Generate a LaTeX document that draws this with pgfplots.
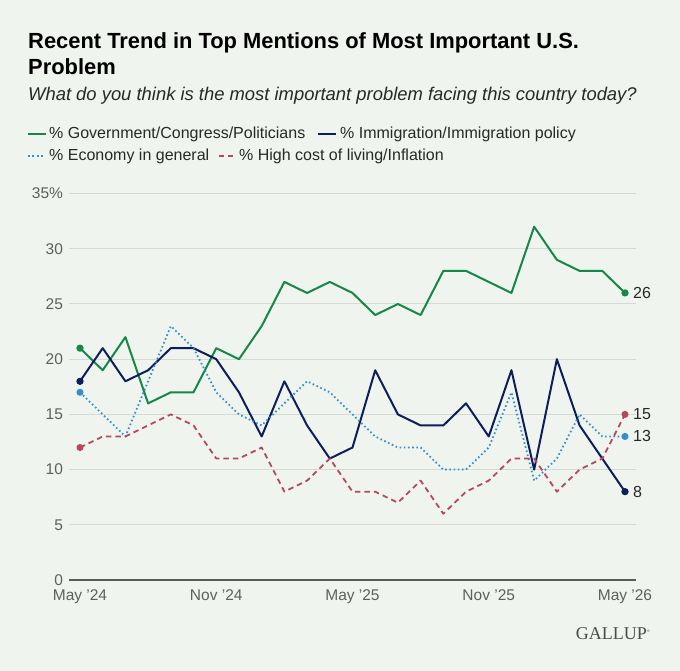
\documentclass[border=0pt]{standalone}
\usepackage{fontspec}
\setmainfont{Liberation Sans}
\newfontfamily\gallupfont{Liberation Serif}
\usepackage{pgfplots}
\pgfplotsset{compat=1.18}
\definecolor{bg}{RGB}{240,244,239}
\definecolor{cgreen}{RGB}{22,134,74}
\definecolor{cnavy}{RGB}{14,30,90}
\definecolor{cblue}{RGB}{52,143,200}
\definecolor{cred}{RGB}{183,72,90}
\definecolor{gridc}{RGB}{214,218,213}
\definecolor{txt}{RGB}{40,40,40}
\definecolor{tickc}{RGB}{95,95,95}

\pgfplotstableread{
i gov imm eco inf
0 21 18 17 12
1 19 21 15 13
2 22 18 13 13
3 16 19 18 14
4 17 21 23 15
5 17 21 21 14
6 21 20 17 11
7 20 17 15 11
8 23 13 14 12
9 27 18 16 8
10 26 14 18 9
11 27 11 17 11
12 26 12 15 8
13 24 19 13 8
14 25 15 12 7
15 24 14 12 9
16 28 14 10 6
17 28 16 10 8
18 27 13 12 9
19 26 19 17 11
20 32 10 9 11
21 29 20 11 8
22 28 14 15 10
23 28 11 13 11
24 26 8 13 15
}\datatable

\begin{document}
\begin{tikzpicture}
\fill[bg] (0,0) rectangle (680bp,671bp);
\useasboundingbox (0,0) rectangle (680bp,671bp);

% Title and subtitle
\node[anchor=base west, inner sep=0, font=\fontsize{21.9bp}{25bp}\selectfont\bfseries, text=black] at (28bp,622bp) {Recent Trend in Top Mentions of Most Important U.S.};
\node[anchor=base west, inner sep=0, font=\fontsize{21.9bp}{25bp}\selectfont\bfseries, text=black] at (28bp,596bp) {Problem};
\node[anchor=base west, inner sep=0, font=\fontsize{18.4bp}{20bp}\selectfont\itshape, text=txt] at (28bp,570bp) {What do you think is the most important problem facing this country today?};

% Legend
\draw[cgreen, line width=2.2bp] (28bp,537bp) -- (45.5bp,537bp);
\node[anchor=base west, inner sep=0, font=\fontsize{16bp}{18bp}\selectfont, text=txt] at (49bp,532bp) {\% Government/Congress/Politicians};
\draw[cnavy, line width=2.2bp] (318bp,537bp) -- (335.5bp,537bp);
\node[anchor=base west, inner sep=0, font=\fontsize{16bp}{18bp}\selectfont, text=txt] at (340bp,532bp) {\% Immigration/Immigration policy};
\draw[cblue, line width=2bp, dash pattern=on 1.8bp off 2.6bp] (28bp,515bp) -- (45.5bp,515bp);
\node[anchor=base west, inner sep=0, font=\fontsize{16bp}{18bp}\selectfont, text=txt] at (49bp,510bp) {\% Economy in general};
\draw[cred, line width=2bp, dash pattern=on 5bp off 4bp] (219bp,515bp) -- (234bp,515bp);
\node[anchor=base west, inner sep=0, font=\fontsize{16bp}{18bp}\selectfont, text=txt] at (239bp,510bp) {\% High cost of living/Inflation};

% Logo
\node[anchor=base east, inner sep=0, font=\gallupfont\fontsize{18bp}{18bp}\selectfont, text=black!70] at (650bp,32bp) {GALLUP\raisebox{7bp}{\fontsize{4bp}{4bp}\selectfont ®}};

\begin{axis}[
  at={(68.65bp,91bp)}, anchor=south west,
  scale only axis, width=567.7bp, height=386.4bp,
  xmin=-0.5, xmax=24.5, ymin=0, ymax=35,
  enlargelimits=false, clip=false,
  axis line style={draw=none},
  tick style={draw=none},
  ytick={0,5,10,15,20,25,30,35},
  yticklabels={0,5,10,15,20,25,30,35\%},
  xtick={0,6,12,18,24},
  xticklabels={May ’24,Nov ’24,May ’25,Nov ’25,May ’26},
  ymajorgrids, grid style={gridc, line width=1bp},
  extra y ticks={0}, extra y tick labels={},
  extra y tick style={grid style={black!65, line width=1.3bp}},
  yticklabel style={anchor=east, inner sep=0pt, xshift=-5.5bp, font=\fontsize{15.5bp}{17bp}\selectfont, text=tickc},
  xticklabel style={anchor=north, inner sep=0pt, yshift=-9bp, font=\fontsize{15.5bp}{17bp}\selectfont, text=tickc},
  every axis plot/.append style={line width=2bp, line join=round},
]
\addplot[cgreen, mark=*, mark indices={1,25}, mark size=2.6bp, mark options={solid, draw=none, fill=cgreen}] table[x=i, y=gov] {\datatable};
\addplot[cnavy, mark=*, mark indices={1,25}, mark size=2.6bp, mark options={solid, draw=none, fill=cnavy}] table[x=i, y=imm] {\datatable};
\addplot[cblue, line width=1.8bp, dash pattern=on 1.6bp off 2.6bp, mark=*, mark indices={1,25}, mark size=2.6bp, mark options={solid, draw=none, fill=cblue}] table[x=i, y=eco] {\datatable};
\addplot[cred, line width=1.8bp, dash pattern=on 5.5bp off 4bp, mark=*, mark indices={1,25}, mark size=2.6bp, mark options={solid, draw=none, fill=cred}] table[x=i, y=inf] {\datatable};

\node[anchor=west, inner sep=0, xshift=8bp, font=\fontsize{16bp}{18bp}\selectfont, text=txt] at (axis cs:24,26) {26};
\node[anchor=west, inner sep=0, xshift=8bp, font=\fontsize{16bp}{18bp}\selectfont, text=txt] at (axis cs:24,15) {15};
\node[anchor=west, inner sep=0, xshift=8bp, font=\fontsize{16bp}{18bp}\selectfont, text=txt] at (axis cs:24,13) {13};
\node[anchor=west, inner sep=0, xshift=8bp, font=\fontsize{16bp}{18bp}\selectfont, text=txt] at (axis cs:24,8) {8};
\end{axis}
\end{tikzpicture}
\end{document}
